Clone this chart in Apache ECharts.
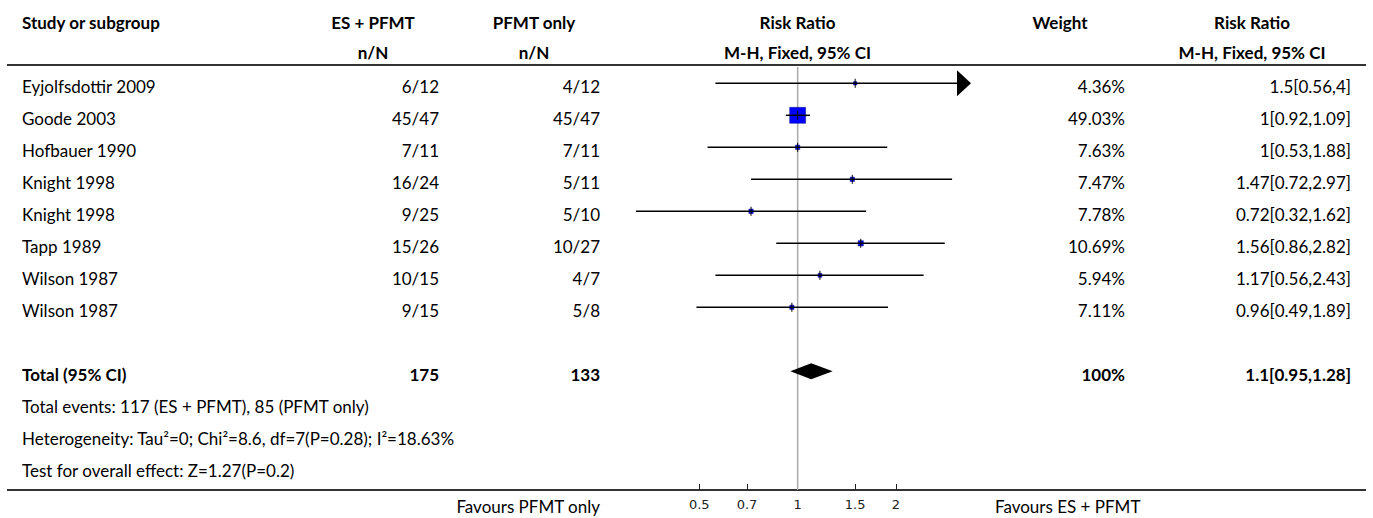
<!DOCTYPE html>
<html>
<head>
<meta charset="utf-8">
<script src="https://cdn.jsdelivr.net/npm/echarts@6/dist/echarts.min.js"></script>
<style>
html,body{margin:0;padding:0;background:#fff;}
#c{width:1373px;height:518px;}
</style>
</head>
<body>
<div id="c"></div>
<script>
// ---- data ----
const studies = ['Eyjolfsdottir 2009','Goode 2003','Hofbauer 1990','Knight 1998','Knight 1998','Tapp 1989','Wilson 1987','Wilson 1987'];
const esPfmt = ['6/12','45/47','7/11','16/24','9/25','15/26','10/15','9/15'];
const pfmtOnly = ['4/12','45/47','7/11','5/11','5/10','10/27','4/7','5/8'];
const weights = [4.36,49.03,7.63,7.47,7.78,10.69,5.94,7.11];
const rr = [1.5,1,1,1.47,0.72,1.56,1.17,0.96];
const lower = [0.56,0.92,0.53,0.72,0.32,0.86,0.56,0.49];
const upper = [4,1.09,1.88,2.97,1.62,2.82,2.43,1.89];
const totalES = 175, totalPF = 133, totalWeight = 100;
const totalRR = 1.1, totalLower = 0.95, totalUpper = 1.28;
const tickValues = [0.5,0.7,1,1.5,2];
const footLines = [
  'Total events: 117 (ES + PFMT), 85 (PFMT only)',
  'Heterogeneity: Tau\u00b2=0; Chi\u00b2=8.6, df=7(P=0.28); I\u00b2=18.63%',
  'Test for overall effect: Z=1.27(P=0.2)'
];
const favLeft = 'Favours PFMT only', favRight = 'Favours ES + PFMT';

// ---- layout ----
const LOG = Math.log10;
const xMin = -0.5285, xMax = 0.5306;
const yMin = -0.572, yMax = 12.71;
const totalRow = 9;
const FONT = 'Lato';
const FS = 17;

const chart = echarts.init(document.getElementById('c'), null, {renderer: 'svg'});

function refLine(params, api) {
  const a = api.coord([0, yMin]), b = api.coord([0, yMax]);
  return {type: 'line', shape: {x1: a[0], y1: a[1] + 2, x2: b[0], y2: b[1]},
          style: {stroke: '#aaaaaa', lineWidth: 1.5}};
}

function studyItem(params, api) {
  const lo = api.value(0), hi = api.value(1), est = api.value(2), row = api.value(3), w = api.value(4);
  const clipped = hi > xMax;
  const pLo = api.coord([Math.max(lo, xMin), row]);
  const pHi = api.coord([Math.min(hi, xMax), row]);
  const pE = api.coord([est, row]);
  const side = 2.2 + 0.28 * w;
  const children = [{
    type: 'rect', shape: {x: pE[0] - side / 2, y: pE[1] - side / 2, width: side, height: side},
    style: {fill: '#0000ff', stroke: '#00008b', lineWidth: 0.5}
  }];
  let endX = pHi[0];
  if (clipped) {
    endX = pHi[0] - 12;
    children.push({type: 'polygon',
      shape: {points: [[pHi[0], pHi[1]], [pHi[0] - 14, pHi[1] - 13], [pHi[0] - 14, pHi[1] + 13]]},
      style: {fill: '#000'}});
  }
  children.push({type: 'line', shape: {x1: pLo[0], y1: pLo[1], x2: endX, y2: pLo[1]},
    style: {stroke: '#000', lineWidth: 1.5}});
  children.push({type: 'line', shape: {x1: pE[0], y1: pE[1] - 4.5, x2: pE[0], y2: pE[1] + 4.5},
    style: {stroke: '#000', lineWidth: 1}});
  return {type: 'group', children: children};
}

function diamondItem(params, api) {
  const row = api.value(3);
  const l = api.coord([api.value(0), row]), u = api.coord([api.value(1), row]), e = api.coord([api.value(2), row]);
  return {type: 'polygon', shape: {points: [[l[0], l[1]], [e[0], e[1] - 8], [u[0], u[1]], [e[0], e[1] + 8]]},
          style: {fill: '#000'}};
}

const studyData = studies.map((s, i) => [LOG(lower[i]), LOG(upper[i]), LOG(rr[i]), i, weights[i]]);

chart.setOption({
  animation: false,
  grid: {left: 625, width: 346, top: 65, height: 425},
  xAxis: {
    type: 'value', min: xMin, max: xMax, position: 'bottom',
    axisLine: {show: true, onZero: false, lineStyle: {color: '#333', width: 2}},
    axisTick: {show: true, inside: true, length: 6, customValues: tickValues.map(LOG),
               lineStyle: {color: '#222', width: 1}},
    axisLabel: {show: true, customValues: tickValues.map(LOG),
                formatter: v => String(+Math.pow(10, v).toFixed(2)),
                fontFamily: 'DejaVu Sans', fontSize: 13, color: '#222', margin: 8},
    splitLine: {show: false}
  },
  yAxis: {type: 'value', min: yMin, max: yMax, inverse: true, show: false},
  series: [
    {type: 'custom', renderItem: refLine, data: [[0, 0]], silent: true},
    {type: 'custom', renderItem: studyItem, data: studyData, silent: true},
    {type: 'custom', renderItem: diamondItem, silent: true,
     data: [[LOG(totalLower), LOG(totalUpper), LOG(totalRR), totalRow]]}
  ]
});

// ---- table text ----
const yPix = r => chart.convertToPixel({yAxisIndex: 0}, r);
const g = [];
function txt(text, x, y, align, bold) {
  g.push({type: 'text', x: x, y: y, silent: true,
    style: {text: text, fontFamily: FONT, fontSize: FS, fontWeight: bold ? 'bold' : 'normal',
            fill: '#000', align: align, verticalAlign: 'middle'}});
}
function hline(y) {
  g.push({type: 'line', silent: true, shape: {x1: 7, y1: y, x2: 1366, y2: y},
          style: {stroke: '#333', lineWidth: 2}});
}
const OFF = 3;
const xStudy = 22, xES = 439, xESh = 373, xPF = 600, xPFh = 534, xRRh = 797.5,
      xW = 1125, xWh = 1060, xRR = 1351, xRRh2 = 1252;

// header
const h1 = 22, h2 = 52;
txt('Study or subgroup', xStudy, h1, 'left', true);
txt('ES + PFMT', xESh, h1, 'center', true);
txt('PFMT only', xPFh, h1, 'center', true);
txt('Risk Ratio', xRRh, h1, 'center', true);
txt('Weight', xWh, h1, 'center', true);
txt('Risk Ratio', xRRh2, h1, 'center', true);
txt('n/N', xESh, h2, 'center', true);
txt('n/N', xPFh, h2, 'center', true);
txt('M-H, Fixed, 95% CI', xRRh, h2, 'center', true);
txt('M-H, Fixed, 95% CI', xRRh2, h2, 'center', true);
hline(65);
hline(490);

studies.forEach((s, i) => {
  const y = yPix(i) + OFF;
  txt(s, xStudy, y, 'left', false);
  txt(esPfmt[i], xES, y, 'right', false);
  txt(pfmtOnly[i], xPF, y, 'right', false);
  txt(weights[i].toFixed(2) + '%', xW, y, 'right', false);
  txt(rr[i] + '[' + lower[i] + ',' + upper[i] + ']', xRR, y, 'right', false);
});
const yT = yPix(totalRow) + OFF;
txt('Total (95% CI)', xStudy, yT, 'left', true);
txt(String(totalES), xES, yT, 'right', true);
txt(String(totalPF), xPF, yT, 'right', true);
txt(totalWeight + '%', xW, yT, 'right', true);
txt(totalRR + '[' + totalLower + ',' + totalUpper + ']', xRR, yT, 'right', true);
footLines.forEach((t, k) => txt(t, xStudy, yPix(totalRow + 1 + k) + OFF, 'left', false));
txt(favLeft, xPF, 506, 'right', false);
txt(favRight, 995, 506, 'left', false);

chart.setOption({graphic: {elements: g}});
</script>
</body>
</html>
